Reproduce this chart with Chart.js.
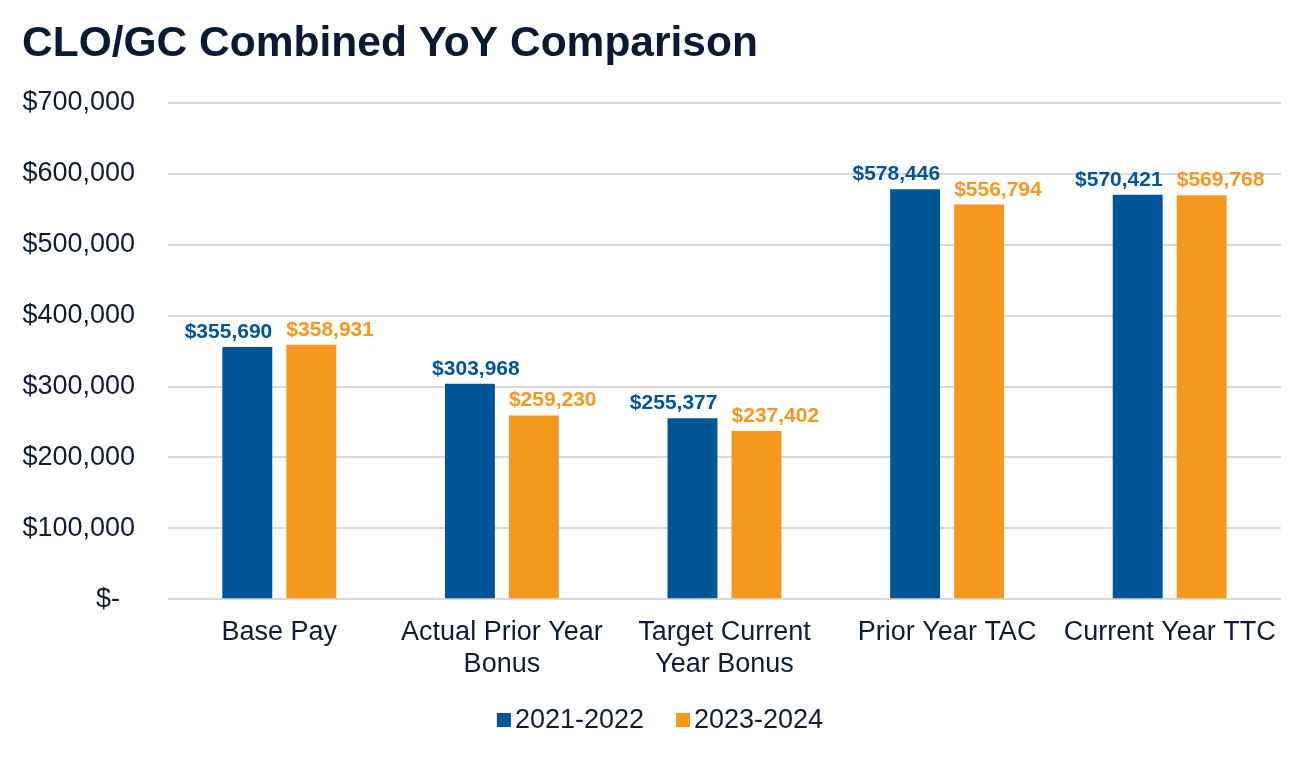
<!DOCTYPE html>
<html>
<head>
<meta charset="utf-8">
<script src="https://cdn.jsdelivr.net/npm/chart.js@4.4.1/dist/chart.umd.min.js"></script>
<style>
  html, body { margin: 0; padding: 0; background: #ffffff; }
  #wrap { width: 1306px; height: 762px; }
</style>
</head>
<body>
<div id="wrap"><canvas id="c" width="1306" height="762"></canvas></div>
<script>
const categories = [
  "Base Pay",
  ["Actual Prior Year", "Bonus"],
  ["Target Current", "Year Bonus"],
  "Prior Year TAC",
  "Current Year TTC"
];
const seriesNames = ["2021-2022", "2023-2024"];
const values2122 = [355690, 303968, 255377, 578446, 570421];
const values2324 = [358931, 259230, 237402, 556794, 569768];
const yTicks = [0, 100000, 200000, 300000, 400000, 500000, 600000, 700000];

const BLUE = "#005596";
const ORANGE = "#F7981E";
const TEXT = "#0E1D35";
const FONT = "'Liberation Sans', Arial, Helvetica, sans-serif";

function money(v) {
  if (v === 0) return "$-  ";
  return "$" + v.toLocaleString("en-US");
}

// value labels above bars (first series pushed left, second pushed right when they would collide)
const valueLabels = {
  id: "valueLabels",
  afterDatasetsDraw(chart) {
    const ctx = chart.ctx;
    ctx.save();
    ctx.font = "bold 21px " + FONT;
    ctx.textBaseline = "alphabetic";
    const m0 = chart.getDatasetMeta(0), m1 = chart.getDatasetMeta(1);
    chart.data.datasets.forEach((ds, i) => {
      const meta = chart.getDatasetMeta(i);
      ctx.fillStyle = ds.backgroundColor;
      meta.data.forEach((el, j) => {
        const half = el.width / 2;
        const dy = Math.abs(m0.data[j].y - m1.data[j].y);
        let x;
        if (i === 0) {
          if (dy > 20) { ctx.textAlign = "center"; x = el.x + 6; }
          else { ctx.textAlign = "right"; x = el.x + half; }
        } else {
          ctx.textAlign = "left"; x = el.x - half;
        }
        ctx.fillText(money(ds.data[j]), x, el.y - 9);
      });
    });
    ctx.restore();
  }
};

// legend drawn at the bottom: small square, tight gap, text
const bottomLegend = {
  id: "bottomLegend",
  afterDraw(chart) {
    const ctx = chart.ctx;
    ctx.save();
    ctx.font = "27px " + FONT;
    ctx.textBaseline = "middle";
    ctx.textAlign = "left";
    const box = 14, gap = 4, itemGap = 32;
    const items = chart.data.datasets.map(ds => ({ text: ds.label, color: ds.backgroundColor, w: ctx.measureText(ds.label).width }));
    const total = items.reduce((s, it) => s + box + gap + it.w, 0) + itemGap * (items.length - 1);
    let x = chart.width / 2 + 7 - total / 2;
    const cy = 720;
    items.forEach(it => {
      ctx.fillStyle = it.color;
      ctx.fillRect(x, cy - box / 2, box, box);
      x += box + gap;
      ctx.fillStyle = TEXT;
      ctx.fillText(it.text, x, cy + 1);
      x += it.w + itemGap;
    });
    ctx.restore();
  }
};

new Chart(document.getElementById("c"), {
  type: "bar",
  data: {
    labels: categories,
    datasets: [
      { label: seriesNames[0], data: values2122, backgroundColor: BLUE },
      { label: seriesNames[1], data: values2324, backgroundColor: ORANGE }
    ]
  },
  options: {
    responsive: false,
    animation: false,
    devicePixelRatio: 1,
    layout: { padding: { left: 22, right: 25, top: 0, bottom: 72 } },
    categoryPercentage: 0.575,
    barPercentage: 0.78,
    scales: {
      x: {
        grid: { display: false },
        border: { display: false },
        ticks: {
          color: TEXT,
          font: { family: FONT, size: 27 },
          padding: 9,
          maxRotation: 0,
          autoSkip: false
        }
      },
      y: {
        min: 0,
        max: 700000,
        afterBuildTicks(scale) { scale.ticks = yTicks.map(v => ({ value: v })); },
        afterFit(scale) { scale.width = 146; },
        grid: { color: "#D9D9D9", lineWidth: 2, drawTicks: false },
        border: { display: false },
        ticks: {
          color: TEXT,
          font: { family: FONT, size: 27 },
          padding: 33,
          callback: (v) => money(v)
        }
      }
    },
    plugins: {
      title: {
        display: true,
        text: "CLO/GC Combined YoY Comparison",
        align: "start",
        color: "#0B1A33",
        font: { family: FONT, size: 42.5, weight: "bold" },
        padding: { top: 19, bottom: 33 }
      },
      legend: { display: false },
      tooltip: { enabled: false }
    }
  },
  plugins: [valueLabels, bottomLegend]
});
</script>
</body>
</html>
